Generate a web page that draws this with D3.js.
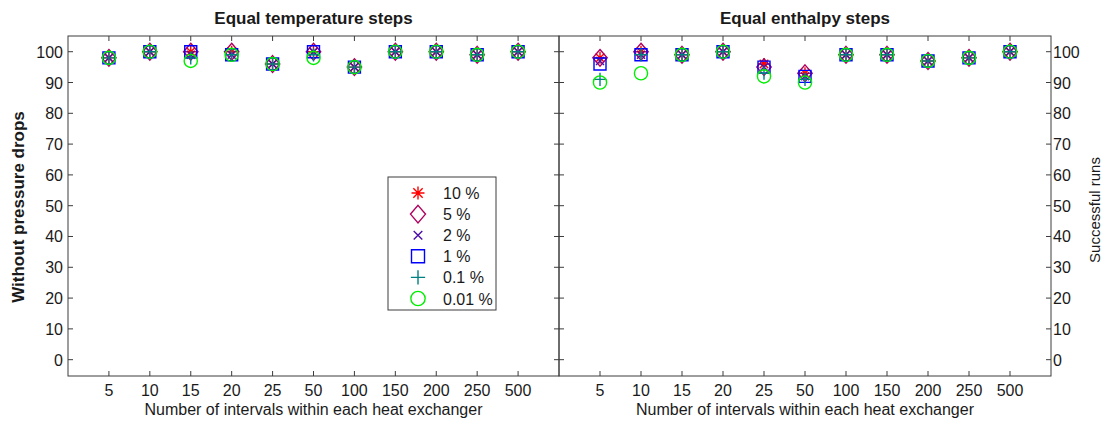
<!DOCTYPE html>
<html>
<head>
<meta charset="utf-8">
<script src="https://cdn.jsdelivr.net/npm/d3@7"></script>
<style>
  body { margin: 0; background: #fff; }
  svg { display: block; font-family: "Liberation Sans", Arial, sans-serif; }
</style>
</head>
<body>
<svg id="chart" width="1109" height="425"></svg>
<script>
// Interval counts on the x axis (categorical)
const categories = ["5", "10", "15", "20", "25", "50", "100", "150", "200", "250", "500"];

// Convergence tolerances shown in the legend
const tolerances = ["10 %", "5 %", "2 %", "1 %", "0.1 %", "0.01 %"];

// Successful runs (%) — equal temperature steps, one array per tolerance
const tempSteps10   = [98, 100, 100, 100, 96, 100, 95, 100, 100, 99, 100];
const tempSteps5    = [98, 100, 100, 100, 96, 100, 95, 100, 100, 99, 100];
const tempSteps2    = [98, 100,  99,  99, 96, 100, 95, 100, 100, 99, 100];
const tempSteps1    = [98, 100, 100,  99, 96, 100, 95, 100, 100, 99, 100];
const tempSteps01   = [98, 100,  98,  99, 96,  99, 95, 100, 100, 99, 100];
const tempSteps001  = [98, 100,  97,  99, 96,  98, 95, 100, 100, 99, 100];

// Successful runs (%) — equal enthalpy steps, one array per tolerance
const enthSteps10   = [98, 100, 99, 100, 96, 93, 99, 99, 97, 98, 100];
const enthSteps5    = [98, 100, 99, 100, 95, 93, 99, 99, 97, 98, 100];
const enthSteps2    = [97,  99, 99, 100, 95, 92, 99, 99, 97, 98, 100];
const enthSteps1    = [96,  99, 99, 100, 95, 92, 99, 99, 97, 98, 100];
const enthSteps01   = [91,  99, 99, 100, 93, 91, 99, 99, 97, 98, 100];
const enthSteps001  = [90,  93, 99, 100, 92, 90, 99, 99, 97, 98, 100];

const yTicks = [0, 10, 20, 30, 40, 50, 60, 70, 80, 90, 100];

const markerStyles = [
  { kind: "star",    color: "#ff0000" },
  { kind: "diamond", color: "#b0005e" },
  { kind: "times",   color: "#4b0fa8" },
  { kind: "square",  color: "#0000ff" },
  { kind: "plus",    color: "#008080" },
  { kind: "circle",  color: "#00ee00" }
];

const panels = [
  { title: "Equal temperature steps", x0: 68,  x1: 559,
    series: [tempSteps10, tempSteps5, tempSteps2, tempSteps1, tempSteps01, tempSteps001] },
  { title: "Equal enthalpy steps",    x0: 559, x1: 1051,
    series: [enthSteps10, enthSteps5, enthSteps2, enthSteps1, enthSteps01, enthSteps001] }
];

const plotTop = 36, plotBottom = 376, tickLen = 5;
const axisColor = "#3c3c3c", textColor = "#1a1a1a";
const svg = d3.select("#chart");

const y = d3.scaleLinear().domain([-5.3, 105.1]).range([plotBottom, plotTop]);

// Marker path builder, size in pixels
function markerPath(kind, s) {
  const p = d3.path();
  if (kind === "star") {
    const r = s * 0.5, d = r * 0.72;
    p.moveTo(-r, 0); p.lineTo(r, 0);
    p.moveTo(0, -r); p.lineTo(0, r);
    p.moveTo(-d, -d); p.lineTo(d, d);
    p.moveTo(-d, d); p.lineTo(d, -d);
  } else if (kind === "diamond") {
    const w = s * 0.6, h = s * 0.7;
    p.moveTo(0, -h); p.lineTo(w, 0); p.lineTo(0, h); p.lineTo(-w, 0); p.closePath();
  } else if (kind === "times") {
    const r = s * 0.33;
    p.moveTo(-r, -r); p.lineTo(r, r);
    p.moveTo(-r, r); p.lineTo(r, -r);
  } else if (kind === "square") {
    const r = s * 0.5;
    p.rect(-r, -r, 2 * r, 2 * r);
  } else if (kind === "plus") {
    const r = s * 0.55;
    p.moveTo(-r, 0); p.lineTo(r, 0);
    p.moveTo(0, -r); p.lineTo(0, r);
  } else {
    p.arc(0, 0, s * 0.55, 0, 2 * Math.PI);
  }
  return p.toString();
}
const markerSize = 12;

panels.forEach((panel, pi) => {
  const x = d3.scaleLinear().domain([0, categories.length + 1]).range([panel.x0, panel.x1]);
  const g = svg.append("g");

  // Ticks on all four sides (box style)
  categories.forEach((c, i) => {
    const xp = x(i + 1);
    g.append("line").attr("x1", xp).attr("x2", xp).attr("y1", plotBottom).attr("y2", plotBottom - tickLen)
      .attr("stroke", axisColor);
    g.append("line").attr("x1", xp).attr("x2", xp).attr("y1", plotTop).attr("y2", plotTop + tickLen)
      .attr("stroke", axisColor);
    g.append("text").attr("x", xp).attr("y", 396).attr("text-anchor", "middle")
      .attr("font-size", 16).attr("fill", textColor).text(c);
  });
  yTicks.forEach(t => {
    const yp = y(t);
    g.append("line").attr("x1", panel.x0).attr("x2", panel.x0 + tickLen).attr("y1", yp).attr("y2", yp)
      .attr("stroke", axisColor);
    g.append("line").attr("x1", panel.x1).attr("x2", panel.x1 - tickLen).attr("y1", yp).attr("y2", yp)
      .attr("stroke", axisColor);
    if (pi === 0) {
      g.append("text").attr("x", panel.x0 - 5).attr("y", yp + 6).attr("text-anchor", "end")
        .attr("font-size", 16).attr("fill", textColor).text(t);
    } else {
      g.append("text").attr("x", panel.x1 + 2).attr("y", yp + 6).attr("text-anchor", "start")
        .attr("font-size", 16).attr("fill", textColor).text(t);
    }
  });

  // Box
  g.append("rect").attr("x", panel.x0).attr("y", plotTop)
    .attr("width", panel.x1 - panel.x0).attr("height", plotBottom - plotTop)
    .attr("fill", "none").attr("stroke", axisColor).attr("stroke-width", 1);

  // Title
  g.append("text").attr("x", (panel.x0 + panel.x1) / 2).attr("y", 24)
    .attr("text-anchor", "middle").attr("font-size", 17).attr("font-weight", "bold")
    .attr("fill", textColor).text(panel.title);

  // X label
  g.append("text").attr("x", (panel.x0 + panel.x1) / 2).attr("y", 415)
    .attr("text-anchor", "middle").attr("font-size", 16).attr("fill", textColor)
    .text("Number of intervals within each heat exchanger");

  // Markers, one series per tolerance
  panel.series.forEach((vals, si) => {
    const st = markerStyles[si];
    g.append("g").selectAll("path").data(vals).join("path")
      .attr("transform", (v, i) => `translate(${x(i + 1)},${y(v)})`)
      .attr("d", markerPath(st.kind, markerSize))
      .attr("fill", "none").attr("stroke", st.color).attr("stroke-width", 1.4);
  });
});

// Axis titles
svg.append("text").attr("transform", `translate(24,207) rotate(-90)`)
  .attr("text-anchor", "middle").attr("font-size", 17).attr("font-weight", "bold")
  .attr("fill", textColor).text("Without pressure drops");
svg.append("text").attr("transform", `translate(1100,210) rotate(-90)`)
  .attr("text-anchor", "middle").attr("font-size", 15)
  .attr("fill", textColor).text("Successful runs");

// Legend
const lg = svg.append("g");
lg.append("rect").attr("x", 388).attr("y", 177).attr("width", 108).attr("height", 133)
  .attr("fill", "#fff").attr("stroke", axisColor);
tolerances.forEach((t, i) => {
  const ly = 193 + i * 21.1;
  const st = markerStyles[i];
  lg.append("path").attr("transform", `translate(418,${ly})`)
    .attr("d", markerPath(st.kind, st.kind === "diamond" ? 12.5 : 13))
    .attr("fill", "none").attr("stroke", st.color).attr("stroke-width", 1.4);
  lg.append("text").attr("x", 443).attr("y", ly + 6).attr("font-size", 16)
    .attr("fill", textColor).text(t);
});
</script>
</body>
</html>
